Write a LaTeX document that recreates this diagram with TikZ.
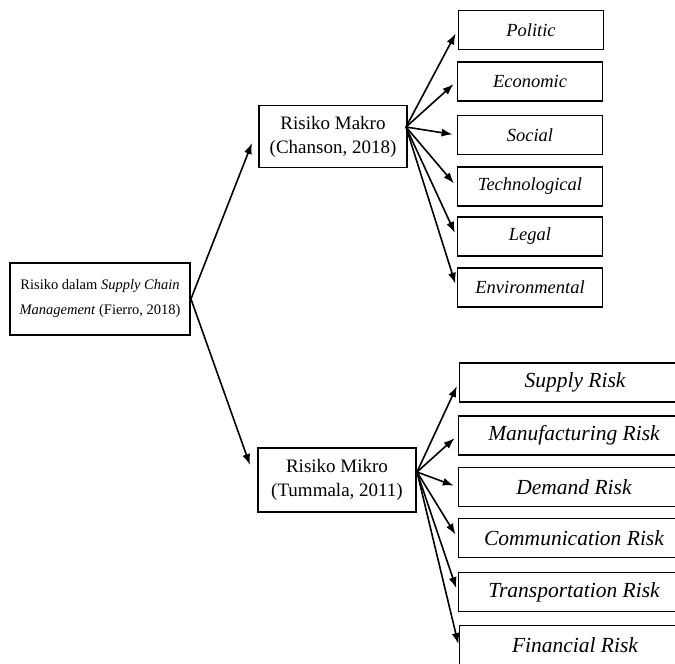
\documentclass[tikz,border=0pt]{standalone}
\usepackage{fontspec}
\setmainfont{Liberation Serif}
\usetikzlibrary{arrows.meta}
\begin{document}
\begin{tikzpicture}[x=1pt,y=-1pt,
  box/.style={draw,line width=1.9pt,inner sep=0pt,align=center},
  rootbox/.style={box,minimum width=180pt,minimum height=72pt,font=\fontsize{14.5}{25}\selectfont},
  midbox/.style={box,minimum height=62pt,font=\fontsize{19}{24}\selectfont},
  macbox/.style={box,minimum width=145pt,minimum height=39pt,font=\fontsize{18.5}{20}\selectfont\itshape},
  micbox/.style={box,minimum width=231pt,minimum height=39pt,font=\fontsize{21.5}{24}\selectfont\itshape},
  arr/.style={line width=1.6pt,-{Latex[length=11pt,width=8pt]}},
  sarr/.style={arr,shorten >=4pt}]
\useasboundingbox (0,0) rectangle (675,664);
\begin{scope}
\clip (0,0) rectangle (675,664);
% main nodes
\node[rootbox] (root) at (100,299) {Risiko dalam \textit{Supply Chain}\\\textit{Management} (Fierro, 2018)};
\node[midbox,minimum width=148pt] (makro) at (333,136.5) {Risiko Makro\\(Chanson, 2018)};
\node[midbox,minimum width=158pt,minimum height=64pt] (mikro) at (337,480) {Risiko Mikro\\(Tummala, 2011)};
% macro boxes
\node[macbox] (pol) at (531,30) {Politic};
\node[macbox] (eco) at (530,81.5) {Economic};
\node[macbox] (soc) at (530,135) {Social};
\node[macbox] (tec) at (530,186.5) {Technological};
\node[macbox] (leg) at (530,236.5) {Legal};
\node[macbox] (env) at (530,287.5) {Environmental};
% micro boxes
\node[micbox] (sup) at (575,382.5) {Supply Risk};
\node[micbox] (man) at (574,435.5) {Manufacturing Risk};
\node[micbox] (dem) at (574,487) {Demand Risk};
\node[micbox] (com) at (574,538) {Communication Risk};
\node[micbox] (tra) at (574,592) {Transportation Risk};
\node[micbox] (fin) at (575,645) {Financial Risk};
% connector ends
\coordinate (mkin) at (252,143);
\coordinate (miin) at (250,465);
\coordinate (mkout) at (406,127);
\coordinate (miout) at (417,472);
\draw[arr] (root.east) -- (mkin);
\draw[arr] (root.east) -- (miin);
\foreach \t in {pol,eco,soc,tec,leg,env}{
  \draw[sarr] (mkout) -- (\t.west);
}
\foreach \t in {sup,man,dem,com,tra}{
  \draw[sarr] (miout) -- (\t.west);
}
\draw[arr,shorten >=1pt] (miout) -- (fin.west);
\end{scope}
\end{tikzpicture}
\end{document}
